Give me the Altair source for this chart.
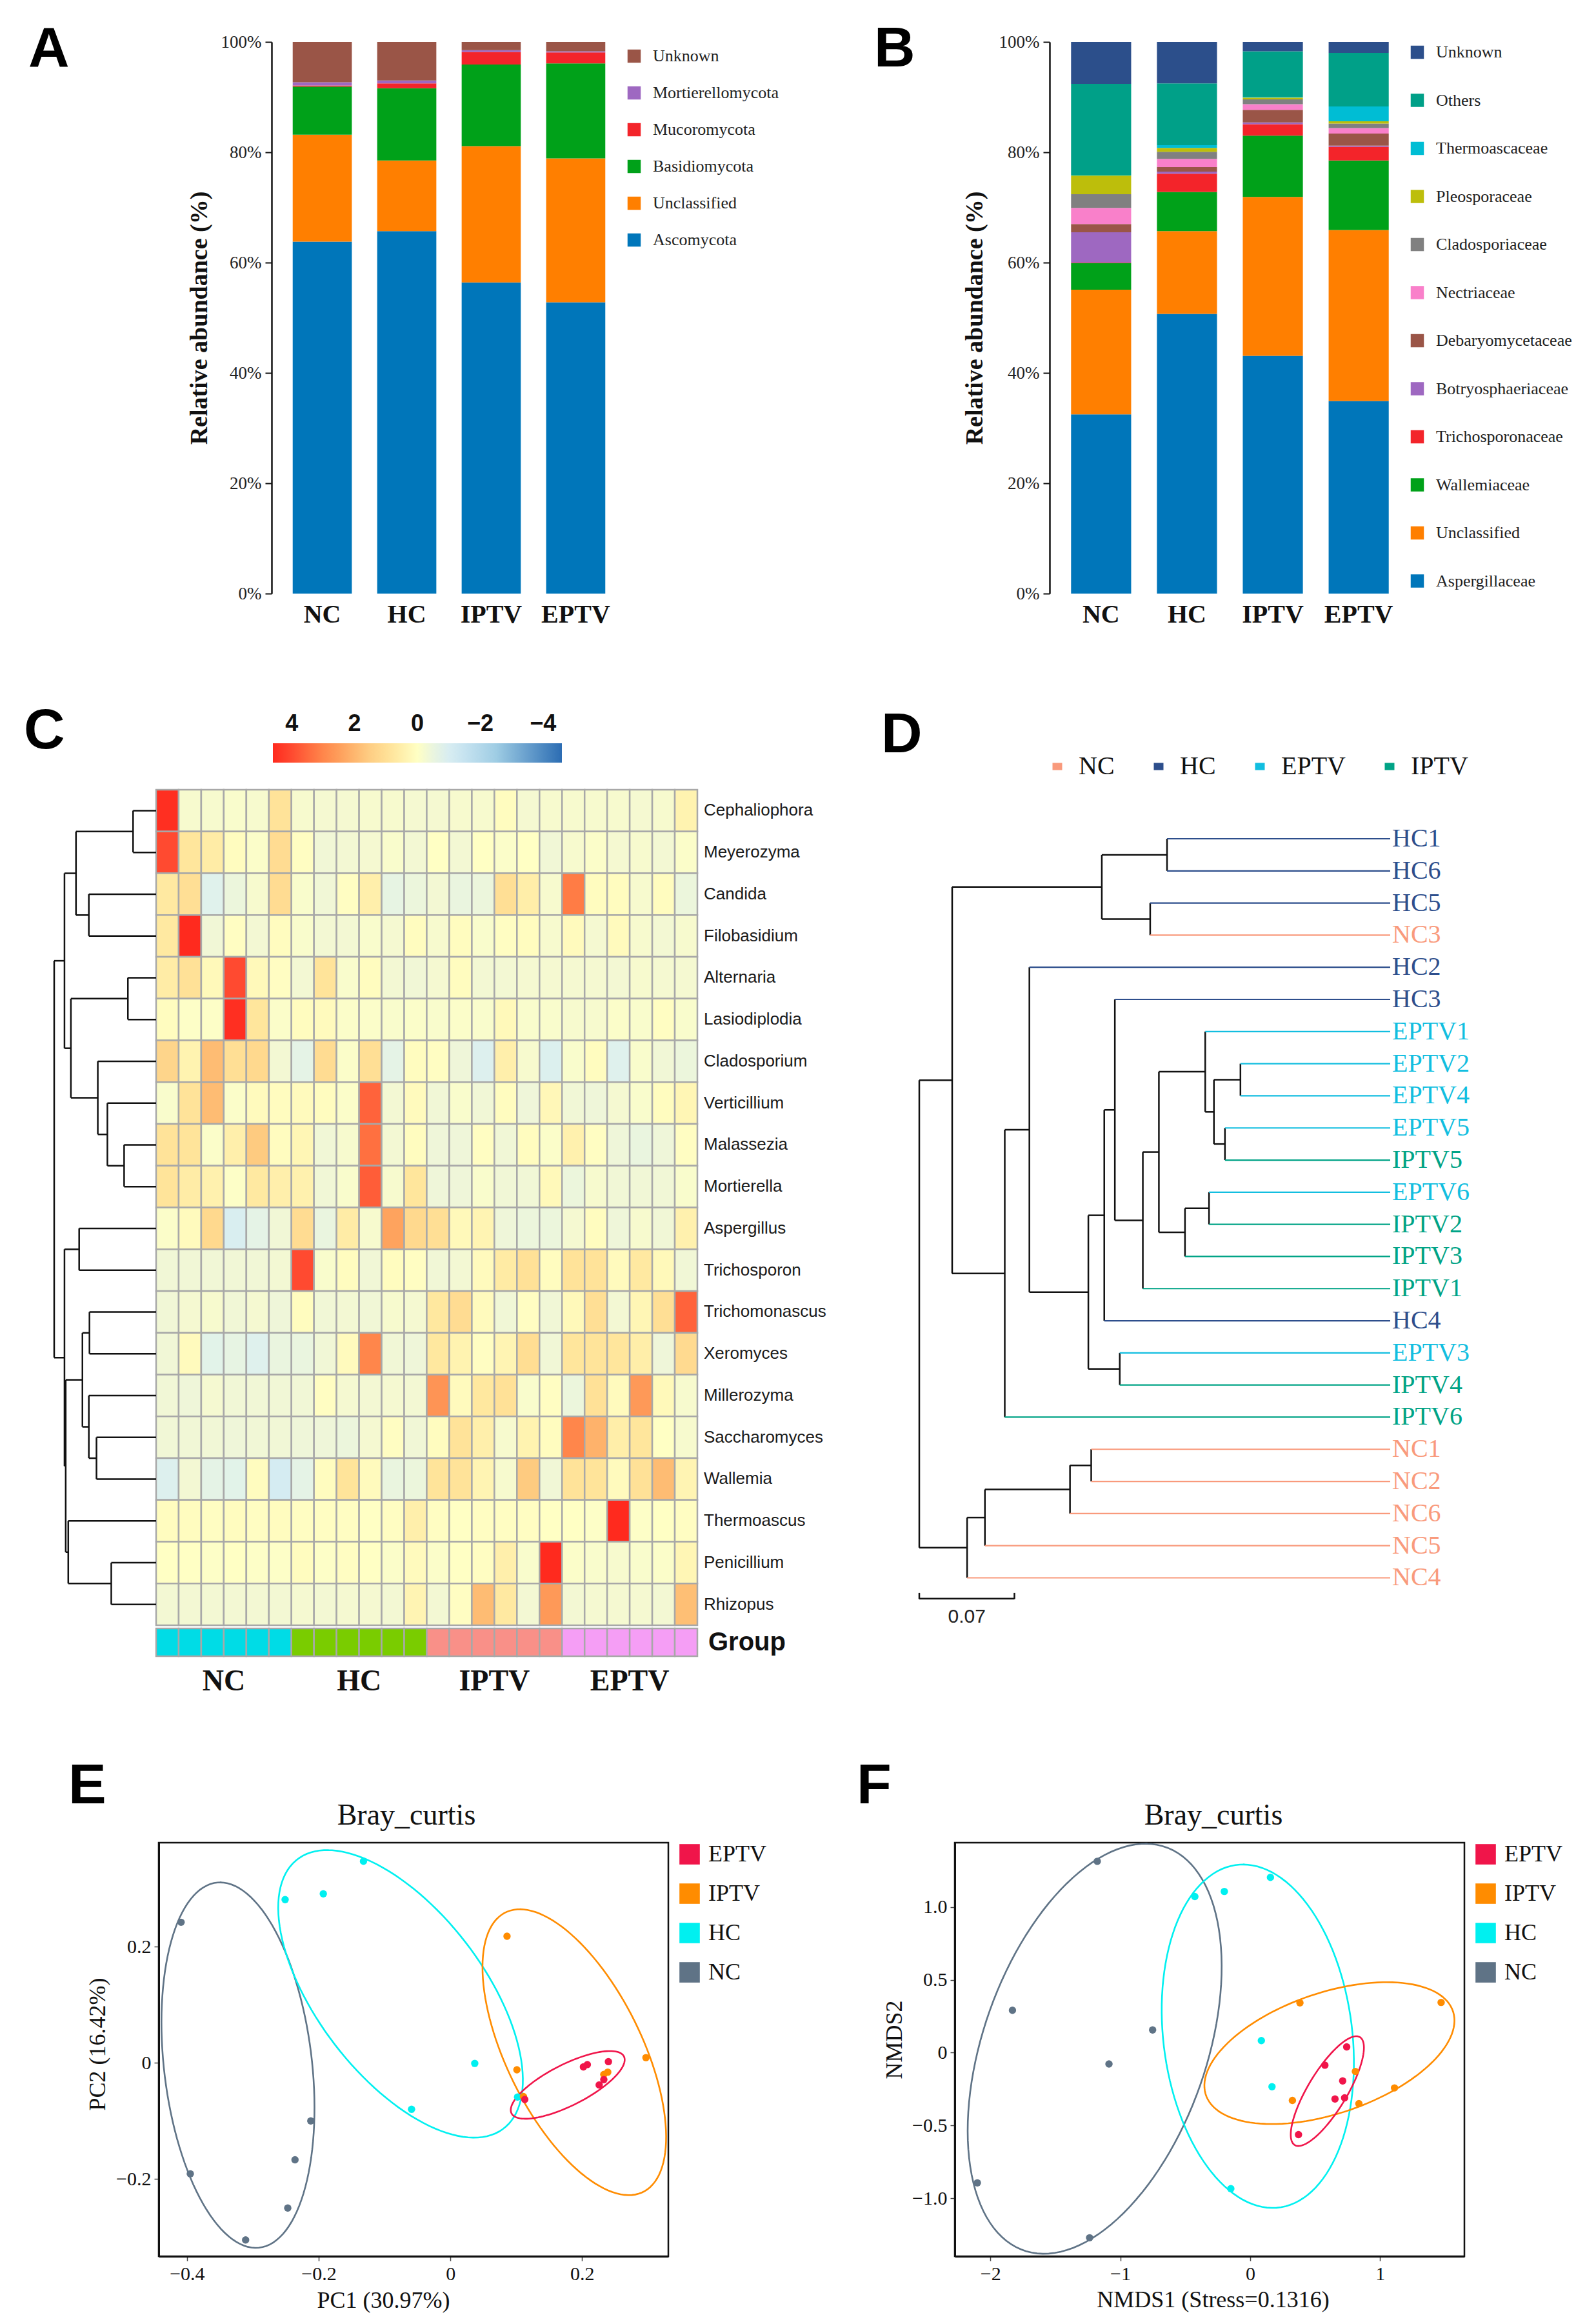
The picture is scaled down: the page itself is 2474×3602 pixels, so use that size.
import altair as alt
import pandas as pd

SERIF = "Liberation Serif"
SANS = "Liberation Sans"
INK = "#111111"

groups = ["NC", "HC", "IPTV", "EPTV"]

# ---------------- Panel A : phylum level ----------------
phyla = ["Ascomycota", "Unclassified", "Basidiomycota", "Mucoromycota", "Mortierellomycota", "Unknown"]
phyla_colors = ["#0076BA", "#FF7F00", "#00A119", "#F3242A", "#9E68C1", "#9A5547"]
phylum_NC = [63.8, 19.4, 8.7, 0.2, 0.6, 7.3]
phylum_HC = [65.7, 12.8, 13.1, 0.9, 0.5, 7.0]
phylum_IPTV = [56.4, 24.7, 14.8, 2.3, 0.3, 1.5]
phylum_EPTV = [52.8, 26.1, 17.2, 2.0, 0.2, 1.7]

# ---------------- Panel B : family level ----------------
families = ["Aspergillaceae", "Unclassified", "Wallemiaceae", "Trichosporonaceae", "Botryosphaeriaceae",
            "Debaryomycetaceae", "Nectriaceae", "Cladosporiaceae", "Pleosporaceae", "Thermoascaceae",
            "Others", "Unknown"]
family_colors = ["#0076BA", "#FF7F00", "#00A119", "#F3242A", "#9E68C1", "#9A5547", "#F980CA",
                 "#808080", "#BDBE0B", "#00BDD4", "#00A088", "#2C4F8B"]
family_NC = [32.5, 22.6, 4.8, 0.1, 5.5, 1.5, 2.9, 2.5, 3.4, 0.1, 16.5, 7.6]
family_HC = [50.7, 15.0, 7.1, 3.3, 0.4, 0.8, 1.5, 1.3, 0.7, 0.5, 11.2, 7.5]
family_IPTV = [43.1, 28.8, 11.1, 2.1, 0.3, 2.3, 1.0, 0.9, 0.3, 0.1, 8.3, 1.7]
family_EPTV = [34.9, 31.0, 12.6, 2.5, 0.2, 2.2, 1.0, 0.8, 0.4, 2.7, 9.7, 2.0]

# ---------------- Panel C : genus heatmap ----------------
genera = ["Cephaliophora", "Meyerozyma", "Candida", "Filobasidium", "Alternaria", "Lasiodiplodia",
          "Cladosporium", "Verticillium", "Malassezia", "Mortierella", "Aspergillus", "Trichosporon",
          "Trichomonascus", "Xeromyces", "Millerozyma", "Saccharomyces", "Wallemia", "Thermoascus",
          "Penicillium", "Rhizopus"]
sample_groups = ["NC"] * 6 + ["HC"] * 6 + ["IPTV"] * 6 + ["EPTV"] * 6
group_bar_colors = ["#00DCE6", "#7ACC00", "#F99088", "#F59EF5"]
heat_values = [
    [4.5, -0.2, -0.2, -0.15, -0.2, 0.9, -0.2, -0.25, -0.25, -0.2, -0.2, -0.25, -0.25, -0.2, -0.2, 0.1, -0.25, -0.2, -0.2, -0.2, -0.2, -0.25, -0.2, 0.4],
    [4.0, 0.8, 0.6, 0.1, -0.1, 1.1, 0.05, -0.35, -0.3, -0.25, -0.15, -0.3, 0.0, -0.3, 0.0, -0.1, 0.0, -0.35, -0.2, -0.1, -0.25, -0.2, -0.3, -0.1],
    [0.7, 1.0, -0.7, -0.45, -0.2, 1.1, -0.15, -0.35, 0.05, 0.5, -0.55, -0.45, -0.3, -0.5, -0.45, 1.0, 0.55, -0.2, 3.2, 0.1, 0.1, -0.2, 0.1, -0.45],
    [0.7, 4.6, -0.35, 0.05, -0.3, 0.1, -0.15, -0.3, -0.3, -0.15, -0.25, 0.1, -0.2, 0.1, -0.15, 0.05, 0.1, -0.2, 0.15, -0.25, 0.15, -0.2, -0.3, -0.2],
    [0.6, 0.95, 0.2, 4.0, 0.2, 0.05, -0.3, 0.85, -0.15, 0.1, -0.3, -0.35, -0.25, 0.1, -0.3, -0.3, -0.25, -0.25, -0.25, -0.25, -0.3, -0.2, -0.25, -0.25],
    [0.1, -0.05, -0.05, 4.5, 0.8, -0.1, 0.1, 0.15, -0.1, -0.1, -0.15, -0.1, -0.15, -0.1, -0.15, 0.2, -0.15, -0.15, -0.2, -0.2, -0.1, -0.15, 0.05, -0.15],
    [1.3, 0.4, 1.9, 1.0, 1.2, -0.3, -0.6, 1.1, -0.1, 1.0, -0.6, 0.1, 0.05, -0.4, -0.8, 0.5, -0.2, -0.85, -0.15, 0.1, -0.75, -0.15, -0.35, -0.45],
    [-0.15, 0.9, 1.9, -0.1, 0.15, 0.1, 0.15, 0.1, -0.1, 3.6, -0.3, 0.15, -0.35, -0.15, -0.35, 0.1, -0.4, 0.25, -0.35, -0.4, -0.25, -0.15, 0.1, 0.3],
    [0.9, 0.85, -0.1, 0.5, 1.6, 0.1, 0.3, -0.35, -0.2, 3.4, -0.3, 0.1, -0.4, -0.4, 0.05, -0.35, 0.1, -0.1, 0.45, 0.05, -0.4, -0.5, -0.4, 0.05],
    [0.85, 0.6, 0.45, -0.05, 0.7, 0.5, 0.45, -0.35, -0.15, 3.7, -0.2, 0.8, -0.4, -0.4, -0.15, -0.35, -0.35, 0.2, -0.45, -0.2, -0.35, -0.35, -0.35, -0.15],
    [-0.1, 0.15, 1.2, -0.95, -0.6, -0.35, 1.1, -0.5, 0.6, -0.2, 2.4, 1.2, 1.0, 0.2, 0.35, -0.4, -0.45, -0.45, -0.25, 0.1, -0.4, -0.2, -0.35, 0.45],
    [-0.35, -0.35, -0.35, -0.35, -0.35, -0.3, 4.0, -0.15, 0.1, -0.35, 0.1, 0.05, -0.35, -0.3, 0.15, 0.65, 0.95, 0.1, 0.9, 0.9, 0.15, 0.7, 0.2, -0.35],
    [-0.35, -0.25, -0.2, -0.35, -0.25, -0.4, 0.1, -0.35, -0.3, -0.35, -0.2, -0.25, 0.75, 1.1, 0.15, -0.35, 0.05, -0.35, 0.2, 1.0, -0.3, 0.3, 1.0, 3.6],
    [-0.35, 0.15, -0.65, -0.55, -0.75, -0.5, -0.5, -0.35, 0.15, 3.0, -0.35, -0.4, 0.75, 0.4, 0.05, 0.35, 1.05, -0.35, 0.8, 0.85, 0.8, 0.55, -0.4, 1.15],
    [-0.35, -0.4, -0.25, -0.35, -0.35, -0.35, -0.35, 0.05, -0.25, -0.3, -0.25, -0.3, 2.7, 0.15, 0.75, 0.95, -0.15, 0.05, -0.45, 0.95, 0.15, 2.6, 0.2, -0.2],
    [-0.35, -0.35, -0.35, -0.4, -0.35, -0.35, -0.4, -0.4, -0.45, -0.25, 0.05, -0.35, 0.1, 0.9, 0.5, -0.2, 0.4, 0.1, 3.0, 2.1, 0.55, 0.8, 0.0, -0.2],
    [-0.8, -0.3, -0.6, -0.65, 0.1, -1.1, -0.6, 0.1, 0.85, 0.15, -0.5, -0.45, 0.85, 0.9, 0.35, -0.2, 1.6, -0.35, 0.9, 0.85, 0.15, 0.95, 1.9, 0.35],
    [0.1, 0.1, 0.05, 0.1, 0.05, 0.1, 0.05, 0.05, 0.05, 0.0, 0.05, 0.5, 0.05, 0.0, 0.05, 0.05, 0.05, 0.0, 0.0, -0.05, 4.6, -0.05, 0.0, 0.05],
    [0.0, 0.0, -0.05, 0.0, -0.05, -0.05, 0.1, -0.05, 0.05, 0.0, -0.1, 0.15, -0.1, 0.0, 0.05, 0.5, -0.15, 4.6, -0.1, -0.15, -0.2, -0.15, -0.1, 0.3],
    [-0.3, -0.3, -0.3, -0.3, -0.3, -0.3, -0.25, -0.3, -0.25, -0.25, -0.3, 0.35, -0.3, 0.05, 1.9, 0.7, -0.3, 2.6, -0.3, -0.25, -0.25, -0.25, -0.3, 1.85],
]
# row dendrogram merges: (child a, child b, merge height, root = 1)
heat_merges = [
    (0, 1, 0.226), (2, 3, 0.660), ("m0", "m1", 0.786), (4, 5, 0.277), (8, 9, 0.314),
    (7, "m4", 0.478), (6, "m5", 0.572), ("m3", "m6", 0.836), ("m2", "m7", 0.899),
    (10, 11, 0.755), (12, 13, 0.654), (15, 16, 0.585), (14, "m11", 0.660), ("m10", "m12", 0.723),
    (18, 19, 0.440), (17, "m14", 0.862), ("m13", "m15", 0.887), ("m9", "m16", 0.899),
    ("m8", "m17", 1.0),
]
# colour ramp (applied to the negated z-score so the colour bar reads 4 ... -4)
neg_domain = [-4.6, -4.0, -3.2, -2.4, -1.6, -0.8, 0.0, 0.35, 0.7, 1.2, 2.5, 4.6]
neg_range = ["#FF2A1E", "#FF4A30", "#FF7C45", "#FEA35E", "#FECB80", "#FFE69C", "#FFFFC4",
             "#F1F7D6", "#E0F2EC", "#D2EAF4", "#9FCDE4", "#2B6CB3"]
colorbar_ticks = [4, 2, 0, -2, -4]

# ---------------- Panel D : sample tree ----------------
tree_leaves = ["HC1", "HC6", "HC5", "NC3", "HC2", "HC3", "EPTV1", "EPTV2", "EPTV4", "EPTV5", "IPTV5",
               "EPTV6", "IPTV2", "IPTV3", "IPTV1", "HC4", "EPTV3", "IPTV4", "IPTV6", "NC1", "NC2",
               "NC6", "NC5", "NC4"]
# (child a, child b, distance of the node from the root)
tree_merges = [
    ("HC1", "HC6", 0.1823), ("HC5", "NC3", 0.1699), ("m0", "m1", 0.1343),
    ("EPTV2", "EPTV4", 0.2363), ("EPTV5", "IPTV5", 0.2249), ("m3", "m4", 0.2168),
    ("EPTV1", "m5", 0.2104), ("EPTV6", "IPTV2", 0.2132), ("m7", "IPTV3", 0.1955),
    ("m6", "m8", 0.1763), ("m9", "IPTV1", 0.1645), ("HC3", "m10", 0.1439),
    ("m11", "HC4", 0.1361), ("EPTV3", "IPTV4", 0.1475), ("m12", "m13", 0.1244),
    ("HC2", "m14", 0.0810), ("m15", "IPTV6", 0.0629), ("m2", "m16", 0.0242),
    ("NC1", "NC2", 0.1265), ("m18", "NC6", 0.1109), ("m19", "NC5", 0.0483),
    ("m20", "NC4", 0.0352), ("m17", "m21", 0.0),
]
tree_tip = 0.3465
tree_scale_bar = 0.07
tree_groups = ["NC", "HC", "EPTV", "IPTV"]
tree_colors = ["#F99A7C", "#2D4E8C", "#12BEE0", "#00A386"]

# ---------------- Panels E / F : ordination ----------------
ord_groups = ["EPTV", "IPTV", "HC", "NC"]
ord_colors = ["#F0154A", "#FF8C00", "#00F0F0", "#5F7386"]
pt_group = ["NC"] * 6 + ["HC"] * 6 + ["IPTV"] * 6 + ["EPTV"] * 6
pcoa_pc1 = [-0.409, -0.395, -0.311, -0.247, -0.236, -0.212, -0.251, -0.193, -0.132, 0.037, -0.059, 0.102,
            0.086, 0.101, 0.297, 0.233, 0.239, 0.111, 0.202, 0.208, 0.240, 0.226, 0.233, 0.113]
pcoa_pc2 = [0.242, -0.191, -0.305, -0.250, -0.167, -0.100, 0.281, 0.291, 0.347, -0.001, -0.080, -0.059,
            0.218, -0.012, 0.009, -0.020, -0.016, -0.058, -0.007, -0.003, 0.002, -0.038, -0.029, -0.063]
nmds_1 = [-1.177, -1.830, -0.751, -1.087, -2.100, -1.236, -0.426, -0.199, 0.156, 0.086, 0.168, -0.149,
          0.383, 1.470, 0.810, 0.325, 1.111, 0.837, 0.743, 0.575, 0.712, 0.653, 0.727, 0.372]
nmds_2 = [1.314, 0.291, 0.156, -0.078, -0.894, -1.271, 1.072, 1.107, 1.204, 0.083, -0.234, -0.934,
          0.342, 0.345, -0.129, -0.328, -0.242, -0.350, 0.040, -0.086, -0.194, -0.318, -0.310, -0.563]
# ellipses: centre c, conjugate semi-axis vectors u and v (data units)
ell_group = ["NC", "HC", "IPTV", "EPTV"]
pcoa_ell_cx = [-0.3226, -0.0757, 0.1882, 0.1782]
pcoa_ell_cy = [-0.004, 0.1187, 0.0183, -0.038]
pcoa_ell_ux = [-0.0271, -0.1115, -0.0828, 0.0642]
pcoa_ell_uy = [0.3146, 0.2475, 0.2461, 0.0583]
pcoa_ell_vx = [0.113, 0.1486, 0.1122, 0.058]
nmds_ell_cx = [-1.197, 0.0587, 0.610, 0.594]
nmds_ell_cy = [0.027, 0.113, -0.003, -0.264]
nmds_ell_ux = [0.391, -0.1134, 0.442, 0.223]
nmds_ell_uy = [1.408, 1.179, 0.487, 0.377]
nmds_ell_vx = [0.896, 0.731, 0.855, 0.172]


# ======================================================================
def letter(ch, x, y):
    return alt.Chart(pd.DataFrame({"t": [ch]})).mark_text(
        font=SANS, fontSize=88, fontWeight="bold", align="left", baseline="alphabetic", color="black"
    ).encode(x=alt.value(x), y=alt.value(y), text="t:N")


def anchor(x, y):
    # invisible point that fixes the extent of a figure row
    return alt.Chart(pd.DataFrame({"a": [0]})).mark_point(opacity=0, size=1, strokeWidth=0).encode(
        x=alt.value(x), y=alt.value(y))


def spacer(w, h, anchors=()):
    base = alt.Chart(pd.DataFrame({"a": [0]})).mark_point(opacity=0, size=1, strokeWidth=0).encode(
        x=alt.value(0), y=alt.value(0))
    if anchors:
        return alt.layer(base, *[anchor(x, y) for x, y in anchors]).properties(width=w, height=h)
    return base.properties(width=w, height=h)


def reordered(domain, colors, new_order):
    # same colour mapping, listed in another order (keeps line scales apart from legend scales)
    lut = dict(zip(domain, colors))
    return alt.Scale(domain=list(new_order), range=[lut[g] for g in new_order])


def stacked(taxa, colors, table, width, leg_x, leg_y, row_pad, lab, lab_x, title_pad):
    rows = []
    for g, vals in zip(groups, table):
        for i, (t, v) in enumerate(zip(taxa, vals)):
            rows.append({"group": g, "taxon": t, "value": v, "ord": i})
    df = pd.DataFrame(rows)
    bars = alt.Chart(df).mark_bar().encode(
        x=alt.X("group:N", sort=groups,
                scale=alt.Scale(paddingInner=0.3, paddingOuter=0.25),
                axis=alt.Axis(title=None, domain=False, ticks=False, labelAngle=0, labelFont=SERIF,
                              labelFontSize=40, labelFontWeight="bold", labelColor=INK, labelPadding=12)),
        y=alt.Y("value:Q", stack="zero", scale=alt.Scale(domain=[0, 100], nice=False),
                axis=alt.Axis(title="Relative abundance (%)", values=[0, 20, 40, 60, 80, 100],
                              labelExpr="datum.value + '%'", grid=False, domainColor=INK, domainWidth=2.5,
                              tickColor=INK, tickSize=10, tickWidth=2, labelFont=SERIF, labelFontSize=27,
                              labelColor="#222", labelPadding=6, titleFont=SERIF, titleFontSize=38,
                              titleFontWeight="bold", titleColor=INK, titlePadding=title_pad)),
        color=alt.Color("taxon:N",
                        scale=alt.Scale(domain=list(reversed(taxa)), range=list(reversed(colors))),
                        legend=alt.Legend(title=None, orient="none", legendX=leg_x, legendY=leg_y,
                                          symbolType="square", symbolSize=420, symbolStrokeWidth=0,
                                          symbolOpacity=1, labelFont=SERIF, labelFontSize=26,
                                          labelColor="#222", rowPadding=row_pad, labelOffset=16,
                                          padding=0, labelLimit=400)),
        order=alt.Order("ord:Q", sort="ascending"),
    )
    return alt.layer(bars, letter(lab, lab_x, 38)).properties(width=width, height=855)


chartA = stacked(phyla, phyla_colors, [phylum_NC, phylum_HC, phylum_IPTV, phylum_EPTV],
                 550, 549, 9, 31, "A", -377, 14)
chartB = stacked(families, family_colors, [family_NC, family_HC, family_IPTV, family_EPTV],
                 559, 557, 3, 48.5, "B", -272, 18)


def build_tree(merges, leaf_y, leaf_x, node_x):
    pos = {k: (leaf_x, v, True) for k, v in leaf_y.items()}
    segs = []
    for i, (a, b, h) in enumerate(merges):
        x = node_x(h)
        ya, yb = pos[a][1], pos[b][1]
        segs.append(dict(x1=x, x2=x, y1=ya, y2=yb, kind="internal", key=""))
        for c in (a, b):
            cx, cy, is_leaf = pos[c]
            segs.append(dict(x1=x, x2=cx, y1=cy, y2=cy, kind="leaf" if is_leaf else "internal",
                             key=str(c) if is_leaf else ""))
        pos[f"m{i}"] = (x, (ya + yb) / 2, False)
    return pd.DataFrame(segs)


# ---------------- Panel C chart ----------------
C_W, C_H = 1004, 1358
C_XMIN, C_XMAX = -4.72, 24.0
cxs = alt.Scale(domain=[C_XMIN, C_XMAX], nice=False, zero=False)
cys = alt.Scale(domain=[-0.232, 20.74], nice=False, zero=False, reverse=True)
CB_X, CB_Y, CB_LEN, CB_THICK = 346, -57, 448, 30
heat_rows = []
for i, vals in enumerate(heat_values):
    for j, v in enumerate(vals):
        heat_rows.append({"c0": j, "c1": j + 1, "r0": i, "r1": i + 1, "v": v})
heat_df = pd.DataFrame(heat_rows)
cells = alt.Chart(heat_df).transform_calculate(nv="-datum.v").mark_rect(
    stroke="#A8A8A8", strokeWidth=2.5
).encode(
    x=alt.X("c0:Q", scale=cxs, axis=None), x2="c1:Q",
    y=alt.Y("r0:Q", scale=cys, axis=None), y2="r1:Q",
    color=alt.Color("nv:Q", scale=alt.Scale(domain=neg_domain, range=neg_range, interpolate="rgb"),
                    legend=alt.Legend(title=None, orient="none", direction="horizontal", legendX=CB_X,
                                      legendY=CB_Y, gradientLength=CB_LEN, gradientThickness=CB_THICK,
                                      values=[], gradientStrokeWidth=0, padding=0)),
)
# colour-bar tick labels, placed above the bar at the colour positions of their values
span = neg_domain[-1] - neg_domain[0]
cb_px = [CB_X + (-v - neg_domain[0]) / span * CB_LEN for v in colorbar_ticks]
cb_df = pd.DataFrame({
    "lab": [("\u2212" + str(-v)) if v < 0 else str(v) for v in colorbar_ticks],
    "xd": [C_XMIN + p / C_W * (C_XMAX - C_XMIN) for p in cb_px],
})
cb_labels = alt.Chart(cb_df).mark_text(
    font=SANS, fontSize=36, fontWeight="bold", align="center", baseline="middle", color=INK
).encode(x=alt.X("xd:Q", scale=cxs, axis=None), y=alt.Y(datum=-1.575, scale=cys, axis=None), text="lab:N")

gb_df = pd.DataFrame({"c0": list(range(24)), "c1": list(range(1, 25)), "grp": sample_groups})
group_bar = alt.Chart(gb_df).mark_rect(stroke="#A8A8A8", strokeWidth=2.5).encode(
    x=alt.X("c0:Q", scale=cxs, axis=None), x2="c1:Q",
    y=alt.Y(datum=20.077, scale=cys, axis=None), y2=alt.Y2(datum=20.74),
    fill=alt.Fill("grp:N", scale=alt.Scale(domain=groups, range=group_bar_colors), legend=None),
)
dendC = build_tree(heat_merges, {i: i + 0.5 for i in range(20)}, 0.0, lambda h: -4.52 * h)
dendC_layer = alt.Chart(dendC).mark_rule(color=INK, strokeWidth=2.5).encode(
    x=alt.X("x1:Q", scale=cxs, axis=None), x2="x2:Q",
    y=alt.Y("y1:Q", scale=cys, axis=None), y2="y2:Q",
)
lab_df = pd.DataFrame({"genus": genera, "r": [i + 0.5 for i in range(20)]})
row_labels = alt.Chart(lab_df).mark_text(
    font=SANS, fontSize=26, align="left", baseline="middle", dx=10, color="#1a1a1a"
).encode(x=alt.X(datum=24, scale=cxs, axis=None), y=alt.Y("r:Q", scale=cys, axis=None), text="genus:N")
grp_word = alt.Chart(pd.DataFrame({"t": ["Group"]})).mark_text(
    font=SANS, fontSize=40, fontWeight="bold", align="left", baseline="middle", dx=17, color=INK
).encode(x=alt.X(datum=24, scale=cxs, axis=None), y=alt.Y(datum=20.41, scale=cys, axis=None), text="t:N")
gname_df = pd.DataFrame({"grp": groups,
                         "xc": [sample_groups.index(g) + sample_groups.count(g) / 2 for g in groups]})
grp_names = alt.Chart(gname_df).mark_text(
    font=SERIF, fontSize=46, fontWeight="bold", align="center", baseline="middle", color=INK
).encode(x=alt.X("xc:Q", scale=cxs, axis=None), y=alt.Y(datum=21.34, scale=cys, axis=None), text="grp:N")
chartC = alt.layer(cells, group_bar, dendC_layer, row_labels, grp_word, grp_names, cb_labels,
                   letter("C", -40, -49), anchor(-68, -141), anchor(-68, 1474)).properties(width=C_W, height=C_H)

# ---------------- Panel D chart ----------------
D_W, D_H = 730, 1358
dxs = alt.Scale(domain=[0, tree_tip], nice=False, zero=False)
dys = alt.Scale(domain=[-1.827, 25.44], nice=False, zero=False, reverse=True)
treeD = build_tree(tree_merges, {k: i for i, k in enumerate(tree_leaves)}, tree_tip, lambda d: d)
treeD["lg"] = treeD["key"].str.replace(r"\d", "", regex=True)
inner = alt.Chart(treeD[treeD["kind"] == "internal"]).mark_rule(color=INK, strokeWidth=2.5).encode(
    x=alt.X("x1:Q", scale=dxs, axis=None), x2="x2:Q",
    y=alt.Y("y1:Q", scale=dys, axis=None), y2="y2:Q",
)
leaf_lines = alt.Chart(treeD[treeD["kind"] == "leaf"]).mark_rule(strokeWidth=2.2).encode(
    x=alt.X("x1:Q", scale=dxs, axis=None), x2="x2:Q",
    y=alt.Y("y1:Q", scale=dys, axis=None), y2="y2:Q",
    stroke=alt.Stroke("lg:N", scale=reordered(tree_groups, tree_colors, ["HC", "NC", "IPTV", "EPTV"]),
                      legend=None),
)
leaf_df = pd.DataFrame({"name": tree_leaves, "idx": list(range(len(tree_leaves))),
                        "grp": [s.rstrip("0123456789") for s in tree_leaves]})
leaf_text = alt.Chart(leaf_df).mark_text(font=SERIF, fontSize=40, align="left", baseline="middle", dx=3).encode(
    x=alt.X(datum=tree_tip, scale=dxs, axis=None),
    y=alt.Y("idx:Q", scale=dys, axis=None),
    text="name:N",
    color=alt.Color("grp:N", scale=alt.Scale(domain=tree_groups, range=tree_colors),
                    legend=alt.Legend(title=None, orient="none", direction="horizontal", legendX=194,
                                      legendY=-41, symbolType="M-1,-0.75H1V0.75H-1Z", symbolSize=225,
                                      symbolStrokeWidth=0, symbolOpacity=1, labelFont=SERIF,
                                      labelFontSize=40, labelColor=INK, columnPadding=48,
                                      labelOffset=13, padding=0)),
)
sb_df = pd.DataFrame({"x0": [0.0], "x1": [tree_scale_bar], "lab": [f"{tree_scale_bar:.2f}"]})
sbar = alt.Chart(sb_df).mark_rule(color=INK, strokeWidth=2.5).encode(
    x=alt.X("x0:Q", scale=dxs, axis=None), x2="x1:Q", y=alt.Y(datum=23.65, scale=dys, axis=None))
sb_ends = alt.Chart(pd.DataFrame({"x": [0.0, tree_scale_bar]})).mark_rule(color=INK, strokeWidth=2.5).encode(
    x=alt.X("x:Q", scale=dxs, axis=None), y=alt.Y(datum=23.47, scale=dys, axis=None), y2=alt.Y2(datum=23.66))
sb_text = alt.Chart(sb_df).transform_calculate(xm="datum.x1 / 2").mark_text(
    font=SANS, fontSize=30, align="center", baseline="middle", color="#222"
).encode(x=alt.X("xm:Q", scale=dxs, axis=None), y=alt.Y(datum=24.22, scale=dys, axis=None), text="lab:N")
chartD = alt.layer(inner, leaf_lines, leaf_text, sbar, sb_ends, sb_text,
                   letter("D", -59, -43)).properties(width=D_W, height=D_H)


# ---------------- Panels E / F ----------------
def ordination(px, py, ecx, ecy, eux, euy, evx, xdom, ydom, xvals, yvals, xfmt, yexpr,
               xtitle, ytitle, xt_pos, yt_pos, lab, lab_x, title_x):
    pts = pd.DataFrame({"x": px, "y": py, "grp": pt_group})
    ell = pd.DataFrame({"egrp": ell_group, "cx": ecx, "cy": ecy, "ux": eux, "uy": euy, "vx": evx})
    xs = alt.Scale(domain=xdom, nice=False, zero=False)
    ys = alt.Scale(domain=ydom, nice=False, zero=False)
    axis_common = dict(grid=False, domainColor=INK, domainWidth=3, tickSize=7, tickColor="#444",
                       tickWidth=1.5, labelFont=SERIF, labelFontSize=30, labelColor=INK, labelPadding=5,
                       titleFont=SERIF, titleFontSize=36, titleFontWeight="normal", titleColor=INK,
                       titleAlign="center", titleBaseline="middle")
    ellipses = alt.Chart(ell).transform_calculate(
        t="sequence(0, 6.35, 0.05)"
    ).transform_flatten(["t"]).transform_calculate(
        x="datum.cx + datum.ux * cos(datum.t) + datum.vx * sin(datum.t)",
        y="datum.cy + datum.uy * cos(datum.t)",
    ).mark_line(strokeWidth=2.6).encode(
        x=alt.X("x:Q", scale=xs), y=alt.Y("y:Q", scale=ys),
        stroke=alt.Stroke("egrp:N", scale=reordered(ord_groups, ord_colors, ell_group), legend=None),
        detail="egrp:N", order="t:Q",
    )
    points = alt.Chart(pts).mark_circle(size=130, opacity=1).encode(
        x=alt.X("x:Q", scale=xs,
                axis=alt.Axis(title=xtitle, values=xvals, format=xfmt, titleX=xt_pos[0], titleY=xt_pos[1],
                              **axis_common)),
        y=alt.Y("y:Q", scale=ys,
                axis=alt.Axis(title=ytitle, values=yvals, labelExpr=yexpr, titleX=yt_pos[0],
                              titleY=yt_pos[1], titleAngle=270, **axis_common)),
        color=alt.Color("grp:N", scale=alt.Scale(domain=ord_groups, range=ord_colors),
                        legend=alt.Legend(title=None, orient="none", legendX=805, legendY=0,
                                          symbolType="square", symbolSize=1000, symbolStrokeWidth=0,
                                          symbolOpacity=1, labelFont=SERIF, labelFontSize=36,
                                          labelColor=INK, rowPadding=25, labelOffset=11, padding=0)),
    )
    title = alt.Chart(pd.DataFrame({"t": ["Bray_curtis"]})).mark_text(
        font=SERIF, fontSize=46, align="center", baseline="alphabetic", color=INK
    ).encode(x=alt.value(title_x), y=alt.value(-28), text="t:N")
    return alt.layer(ellipses, points, title, letter(lab, lab_x, -61)).properties(
        width=790, height=641, view=alt.ViewBackground(stroke=INK, strokeWidth=2.5))


chartE = ordination(pcoa_pc1, pcoa_pc2, pcoa_ell_cx, pcoa_ell_cy, pcoa_ell_ux, pcoa_ell_uy, pcoa_ell_vx,
                    [-0.443, 0.331], [-0.333, 0.379], [-0.4, -0.2, 0, 0.2], [-0.2, 0, 0.2], ".1~f",
                    "format(datum.value, '.1~f')", "PC1 (30.97%)", "PC2 (16.42%)", (348, 68), (-95, 312),
                    "E", -140, 384)
chartF = ordination(nmds_1, nmds_2, nmds_ell_cx, nmds_ell_cy, nmds_ell_ux, nmds_ell_uy, nmds_ell_vx,
                    [-2.274, 1.649], [-1.398, 1.442], [-2, -1, 0, 1], [-1, -0.5, 0, 0.5, 1], "d",
                    "datum.value == 0 ? '0' : format(datum.value, '.1f')", "NMDS1 (Stress=0.1316)",
                    "NMDS2", (400, 67), (-94, 305), "F", -152, 401)

indep = dict(x="independent", y="independent", color="independent", fill="independent", stroke="independent")
# each row: plots packed flush; invisible anchors fix the row's full extent (rows stack on full bounds)
row1 = alt.hconcat(spacer(344, 855, anchors=[(-68, -56), (-68, 1001)]), chartA, spacer(656, 855), chartB,
                   spacing=0, bounds="flush").resolve_scale(**indep)
row2 = alt.hconcat(chartC, spacer(344, 1358), chartD, spacing=0, bounds="flush").resolve_scale(**indep)
row3 = alt.hconcat(spacer(169, 641, anchors=[(-68, -171), (-68, 744)]), chartE, spacer(444, 641), chartF,
                   spacing=0, bounds="flush").resolve_scale(**indep)

chart = alt.vconcat(row1, row2, row3, spacing=0, bounds="full").resolve_scale(**indep).properties(
    padding=0
).configure_view(strokeWidth=0)

chart.save("out.html", embed_options={"renderer": "svg", "actions": False})
